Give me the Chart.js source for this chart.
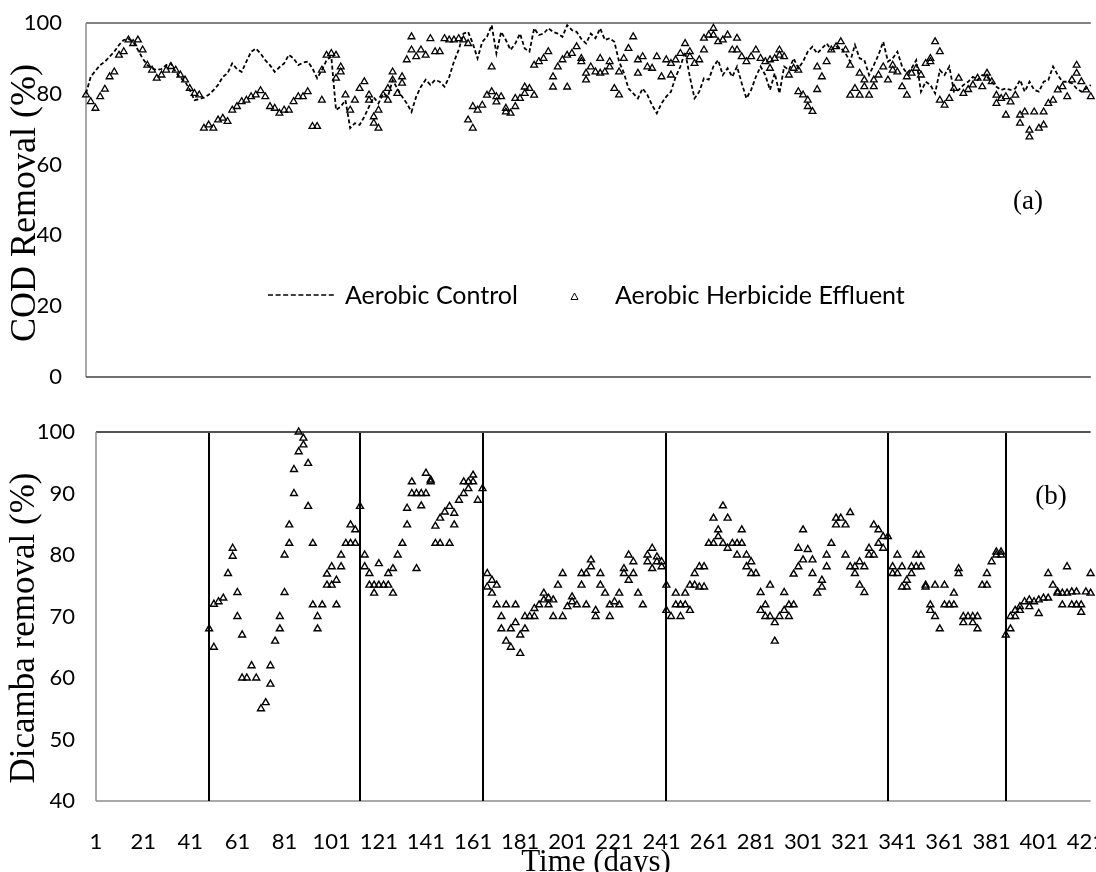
<!DOCTYPE html>
<html>
<head>
<meta charset="utf-8">
<title>COD and Dicamba removal</title>
<script src="https://cdn.jsdelivr.net/npm/chart.js@4.4.1/dist/chart.umd.min.js"></script>
<style>
html, body { margin: 0; padding: 0; background: #fff; overflow: hidden; }
#wrap { position: relative; width: 1096px; height: 872px; }
#wrap canvas { position: absolute; left: 0; }
.txt { position: absolute; white-space: nowrap; color: #000; line-height: 1; }
.serif { font-family: "Liberation Serif", "Times New Roman", serif; }
.sans { font-family: Lato, sans-serif; font-size: 25px; }
.ytitle { transform: translate(-50%, -50%) rotate(-90deg); font-size: 36px; }
</style>
</head>
<body>
<div id="wrap">
  <canvas id="codChart" width="1096" height="400" style="top:0"></canvas>
  <canvas id="dicambaChart" width="1096" height="472" style="top:400px"></canvas>

  <div class="txt serif ytitle" style="left:23px; top:203px">COD Removal (%)</div>
  <div class="txt serif ytitle" style="left:22px; top:628px; font-size:35px">Dicamba removal (%)</div>
  <div class="txt serif" style="left:596px; top:845px; font-size:31px; transform:translateX(-50%)">Time (days)</div>
  <div class="txt serif" style="left:1028px; top:200px; font-size:27px; transform:translate(-50%,-50%)">(a)</div>
  <div class="txt serif" style="left:1051px; top:495px; font-size:27px; transform:translate(-50%,-50%)">(b)</div>

  <!-- legend of the COD panel -->
  <svg style="position:absolute; left:268px; top:290px" width="68" height="10">
    <line x1="0" y1="5" x2="66" y2="5" stroke="#000" stroke-width="1.5" stroke-dasharray="5 2.6"/>
  </svg>
  <div class="txt sans" style="left:345px; top:282px">Aerobic Control</div>
  <svg style="position:absolute; left:570px; top:292px" width="9" height="9">
    <polygon points="4.5,1 8,7.5 1,7.5" fill="none" stroke="#000" stroke-width="1"/>
  </svg>
  <div class="txt sans" style="left:615px; top:282px">Aerobic Herbicide Effluent</div>
</div>

<script>
// sampling days (one category every 2 days)
var codDays = [];
for (var d = 1; d <= 427; d += 2) codDays.push(d);
var dicambaDays = [];
for (var d2 = 1; d2 <= 423; d2 += 2) dicambaDays.push(d2);

var codTicks = [0, 20, 40, 60, 80, 100];
var dicambaTicks = [40, 50, 60, 70, 80, 90, 100];

// start of each operating phase (days)
var phaseDays = [49, 113, 165, 243, 337, 387];

// (a) COD removal, aerobic control (%)
var controlCOD = [
  80.1, 84.8, 86.5, 88.1, 89.1, 90.5, 91.9, 93.8, 95.2, 95.5,
  94.7, 92.4, 90, 88.1, 87.2, 86.7, 87, 88.1, 88.6, 86.2,
  84.5, 83.5, 81.1, 78.2, 78.5, 78.9, 79.7, 81, 82.5, 84.8,
  85.8, 88.6, 87, 86.2, 89.1, 91.9, 92.8, 91.4, 89.5, 88.1,
  86.2, 87.5, 88.6, 91, 90, 88.1, 88.8, 89.1, 87.2, 84.4,
  86.7, 89.5, 90.5, 75.4, 76.4, 78.2, 70.3, 71.7, 71.2, 73.5,
  76.4, 79, 77.3, 80.1, 79.2, 83.9, 81.5, 79.2, 77.3, 74.9,
  79.2, 82, 84, 82.5, 83.9, 83.4, 82, 84.8, 89.1, 92.4,
  97, 97.5, 94.2, 90, 94.7, 96.1, 99.4, 91.4, 97.5, 95.2,
  92.4, 94.2, 97, 92.8, 91.9, 98.5, 96.6, 97, 98.5, 97.5,
  97, 96.1, 99.4, 98, 97.5, 95.5, 94.2, 97, 95.7, 98.5,
  95.2, 95.7, 94.7, 89.1, 86, 81.5, 80.1, 78.7, 81.5, 79.7,
  76.8, 74.5, 77.3, 79.2, 80.6, 84.8, 87.7, 91.9, 84.8, 78.7,
  80.6, 84.4, 84, 87.7, 89.5, 85.3, 87.2, 84.8, 87.7, 83,
  78.7, 81.1, 84.8, 87.7, 85.3, 81.1, 85.8, 80.1, 87.7, 86.7,
  90, 87.2, 89.1, 91.9, 93.3, 91.4, 92.8, 94.2, 92.4, 93.3,
  93, 91.4, 89.1, 93.8, 90, 89.5, 85.3, 88.1, 91, 94.7,
  89.1, 90, 91.9, 87.7, 85.8, 87.2, 89.5, 80.6, 83.4, 82.5,
  80.1, 86.7, 85.3, 87.7, 80.6, 81.1, 82.5, 83.4, 84.8, 83.9,
  85.3, 84.8, 83.4, 82, 81.1, 81.5, 81.1, 81.5, 83.9, 80.6,
  83.4, 81.1, 80.6, 83.4, 83.9, 87.7, 85.3, 83.4, 83.4, 83,
  81.5, 80.6, 81.5, 82.5
];

// (a) COD removal, aerobic herbicide effluent (%)
var effluentCOD = [
  79.7, 77.8, 75.9, 79.2, 81.3, 84.8, 86.2, 90.9, 91.9, 95.2,
  94.2, 95.2, 92.4, 88.1, 86.7, 84.4, 85.3, 86.7, 87.7, 86.7,
  85.3, 83.9, 81.5, 80.1, 79.7, 70.3, 71.2, 70.3, 72.6, 73.1,
  72.2, 75.4, 76.4, 77.8, 78.2, 79.2, 79.7, 80.9, 79.2, 76.4,
  75.9, 74.5, 75.4, 75.4, 77.8, 79.2, 79.2, 80.6, 70.8, 70.8,
  86.7, 90.9, 91.4, 84.4, 86.2, 79.7, 75.4, 78.2, 81.5, 83.4,
  79.7, 73.5, 70.3, 79.7, 78.2, 83.9, 80.1, 84.8, 89.6, 96.1,
  90.5, 92.4, 90.9, 95.6, 91.9, 91.9, 95.6, 95.2, 95.2, 95.6,
  95.2, 72.6, 76.4, 75.4, 76.8, 79.6, 80.6, 77.7, 79.2, 75.9,
  74.5, 76.4, 78.7, 81.9, 81.5, 79.6, 89.1, 90, 91.9, 81.9,
  87.6, 89.6, 90.9, 91.4, 93.3, 90, 85.8, 87.6, 86.2, 90,
  86.2, 89.1, 81.5, 79.7, 90, 92.8, 96.1, 89.6, 90.5, 87.6,
  87.2, 90.5, 84.8, 89.6, 85.3, 89.6, 91.4, 94.2, 91.9, 88.6,
  89.6, 95.7, 96.6, 98.5, 94.7, 95.2, 96.6, 92.4, 92.4, 90.5,
  89.1, 90.5, 92.4, 90, 89.1, 87.2, 90, 92.4, 90.5, 85.3,
  87.2, 80.6, 79.7, 78.2, 75, 87.6, 84.8, 89.1, 92.4, 93.3,
  94.7, 92.4, 79.6, 81.5, 85.8, 83.9, 79.6, 82, 85.3, 87.6,
  83.9, 88.1, 86.2, 82, 79.6, 85.8, 87.2, 85.3, 88.6, 89.1,
  94.7, 91.9, 76.8, 78.7, 81.5, 84.4, 80.1, 81.2, 82.5, 84.4,
  82, 85.8, 83.4, 79.6, 78.7, 79.2, 77.7, 79.6, 74, 74.9,
  67.8, 74.9, 70.3, 74.9, 77.3, 78.2, 81.1, 82, 79.2, 83.9,
  88.1, 83.4, 81.1, 79.2
];

// second reading on the same day (overlapping triangles)
var effluentExtraDays = [101, 107, 109, 121, 123, 125, 129, 131, 135, 139,
  163, 165, 173, 175, 179, 183, 187, 191, 199, 205,
  211, 213, 219, 223, 227, 235, 249, 257, 263, 267,
  277, 291, 295, 303, 307, 311, 325, 329, 331, 335,
  343, 349, 359, 363, 383, 387, 391, 397, 401, 407, 421];
var effluentExtraVals = [78.2, 90.9, 87.6, 78.2, 71.7, 75.4, 81.5, 86.2, 83, 92.4,
  94.2, 70.3, 87.6, 79.2, 74.9, 78.7, 80.1, 88.1, 84.8, 81.9,
  89.1, 83.9, 85.8, 87.6, 86.2, 85.8, 88.6, 90.5, 92.4, 96.6,
  95.7, 89.6, 90.9, 86.7, 76.4, 81.2, 88.1, 79.6, 82, 83.9,
  86.7, 84.8, 90, 78.2, 84.4, 77.3, 74, 71.7, 69.7, 71.2, 85.8];

// (b) Dicamba removal (%)
var dicambaRemoval = [
  null, null, null, null, null, null, null, null, null, null,
  null, null, null, null, null, null, null, null, null, null,
  null, null, null, null, 68, 72, 72.4, 73, 77, 79.8,
  70, 67, 60, 62, 60, 55, 56, 62, 66, 70,
  73.9, 81.9, 93.9, 100, 99, 87.9, 81.9, 68, 71.9, 75.1,
  78.1, 75.9, 78.1, 81.9, 84.9, 84.1, 87.9, 78.1, 77, 75.1,
  78.6, 75.1, 77, 73.8, 80, 81.9, 87.6, 90, 90, 88,
  93.3, 92.2, 81.9, 86, 87, 81.9, 86.8, 88.9, 90, 91.9,
  93, 88.9, 90.8, 77, 75.9, 71.9, 70, 71.9, 68, 71.9,
  64, 68, 70, 71.3, 71.9, 73.8, 73, 72.7, 75.1, 77,
  71.6, 72.4, 71.9, 77, 77, 79.2, 71, 75.1, 73.8, 71.9,
  72.4, 73.8, 77.8, 80, 77, 73.8, 71.9, 80, 77.8, 78.9,
  78.9, 75.1, 70, 71.9, 70, 71.9, 75.1, 77, 78.1, 74.8,
  81.9, 86, 84.1, 88, 86, 81.9, 81.9, 84.1, 80, 78.9,
  77, 71, 70, 70, 66, 70, 73.9, 71.9, 76.9, 81.1,
  84.1, 80.9, 79.2, 73.8, 75.9, 80, 81.9, 84.9, 86, 80,
  86.9, 77, 78.9, 73.9, 80, 84.9, 84.1, 83, 83, 78.1,
  77, 78.1, 75.9, 77, 80, 80, 74.8, 71, 70, 68,
  75.1, 71.9, 71.9, 77, 70, 70, 70, 70, 75.1, 77,
  78.9, 80.5, 80.5, 67, 68, 70, 71.6, 72.4, 72.7, 72.4,
  72.7, 73, 77, 75.1, 74, 71.9, 78.1, 71.9, 71.9, 70.7,
  74, 73.8
];

var dicambaExtraDays = [51, 59, 61, 63, 75, 79, 81, 83, 85, 87,
  89, 91, 93, 95, 99, 101, 103, 105, 109, 111,
  115, 117, 119, 121, 125, 127, 133, 135, 137, 139,
  141, 143, 145, 147, 151, 153, 157, 159, 161, 167,
  169, 171, 173, 175, 177, 179, 181, 183, 187, 191,
  193, 195, 199, 203, 207, 209, 211, 213, 215, 219,
  223, 225, 227, 229, 235, 237, 239, 241, 243, 247,
  249, 251, 253, 255, 257, 259, 263, 265, 267, 269,
  273, 275, 277, 279, 283, 285, 287, 289, 293, 295,
  297, 299, 301, 305, 309, 311, 315, 319, 321, 323,
  325, 327, 329, 331, 333, 335, 339, 341, 343, 345,
  347, 349, 351, 353, 355, 357, 361, 365, 367, 369,
  373, 375, 379, 383, 385, 389, 391, 393, 397, 401,
  405, 409, 411, 413, 415, 417, 419, 423];
var dicambaExtraVals = [65, 81.1, 73.9, 60, 59, 68, 80, 84.9, 90, 96.8,
  97.9, 94.9, 71.9, 70, 76.9, 75.1, 71.9, 80, 81.9, 81.9,
  80, 75.1, 73.8, 75.1, 75.1, 77.8, 84.9, 91.9, 77.8, 90,
  90, 91.9, 84.7, 81.9, 87.9, 84.9, 91.9, 90.8, 91.9, 74.8,
  73.8, 75.1, 68, 66, 65, 69, 67, 70, 70, 72.7,
  71.9, 70, 70, 73.2, 75.1, 71.9, 78.1, 70, 77, 70,
  71.9, 77, 75.9, 78.9, 78.9, 81.1, 79.7, 78.1, 71, 73.8,
  71.9, 73.8, 71, 75.1, 74.8, 78.1, 81.9, 83, 81.9, 81.1,
  80, 81.9, 78.1, 77, 73.9, 71.9, 75.1, 69, 71, 70,
  71.9, 78.1, 79.2, 77, 74.8, 78.1, 86, 84.9, 78.1, 78.1,
  75.1, 78.1, 81.1, 80, 81.9, 81.1, 77, 80, 74.8, 74.8,
  78.1, 78.1, 78.1, 75.1, 71.9, 75.1, 71.9, 73.8, 77.8, 69,
  69, 68, 75.1, 80, 80, 70, 71, 71, 71.6, 70.5,
  73, 73.8, 73.8, 73.8, 74, 74, 71.9, 77];

Chart.defaults.font.family = 'Lato';
Chart.defaults.color = '#000';

// border of the plot area, one colour per side
var frame = {
  id: 'frame',
  beforeDatasetsDraw: function (chart, args, opts) {
    var a = chart.chartArea, ctx = chart.ctx;
    ctx.save();
    ctx.lineWidth = 1.5;
    var sides = {
      top: [a.left, a.top, a.right, a.top],
      left: [a.left, a.top, a.left, a.bottom],
      bottom: [a.left, a.bottom, a.right, a.bottom]
    };
    Object.keys(sides).forEach(function (k) {
      if (!opts[k]) return;
      var s = sides[k];
      ctx.strokeStyle = opts[k];
      ctx.beginPath();
      ctx.moveTo(s[0], s[1]);
      ctx.lineTo(s[2], s[3]);
      ctx.stroke();
    });
    ctx.restore();
  }
};

// vertical lines at the phase changes
var phaseLines = {
  id: 'phaseLines',
  beforeDatasetsDraw: function (chart, args, opts) {
    if (!opts.days) return;
    var a = chart.chartArea, ctx = chart.ctx, x = chart.scales.x;
    ctx.save();
    ctx.strokeStyle = '#000';
    ctx.lineWidth = 2;
    opts.days.forEach(function (day) {
      var px = Math.round(x.getPixelForValue((day - 1) / 2));
      ctx.beginPath();
      ctx.moveTo(px, a.top + 1);
      ctx.lineTo(px, a.bottom);
      ctx.stroke();
    });
    ctx.restore();
  }
};

function triangles(data, r, bw) {
  return {
    data: data,
    showLine: false,
    pointStyle: 'triangle',
    pointRadius: r,
    pointHoverRadius: r,
    pointBorderColor: '#000',
    pointBackgroundColor: 'rgba(0,0,0,0)',
    pointBorderWidth: bw,
    clip: false
  };
}

function pairs(days, vals) {
  return days.map(function (d, k) { return { x: d, y: vals[k] }; });
}

new Chart(document.getElementById('codChart'), {
  type: 'line',
  data: {
    labels: codDays,
    datasets: [
      {
        label: 'Aerobic Control',
        data: controlCOD,
        borderColor: '#000',
        borderWidth: 1.8,
        borderDash: [4, 2.5],
        pointRadius: 0,
        tension: 0,
        fill: false
      },
      Object.assign({ label: 'Aerobic Herbicide Effluent' }, triangles(effluentCOD, 3.9, 1.3)),
      Object.assign({ label: 'Aerobic Herbicide Effluent ' }, triangles(pairs(effluentExtraDays, effluentExtraVals), 3.9, 1.3))
    ]
  },
  options: {
    responsive: false,
    animation: false,
    devicePixelRatio: 1,
    layout: { padding: { top: 23, right: 0, bottom: 0, left: 0 } },
    plugins: {
      legend: { display: false },
      tooltip: { enabled: false },
      frame: { top: '#595959', left: '#8c8c8c', bottom: '#404040' }
    },
    scales: {
      x: {
        type: 'category',
        offset: false,
        ticks: { display: false },
        grid: { display: false, drawTicks: false },
        border: { display: false },
        afterFit: function (s) { s.height = 23; }
      },
      y: {
        min: 0,
        max: 100,
        afterBuildTicks: function (s) { s.ticks = codTicks.map(function (v) { return { value: v }; }); },
        ticks: { padding: 0, color: '#000', font: { size: 22 } },
        grid: { display: false, drawTicks: true, tickLength: 24 },
        border: { display: false },
        afterFit: function (s) { s.width = 86; }
      }
    }
  },
  plugins: [frame]
});

new Chart(document.getElementById('dicambaChart'), {
  type: 'line',
  data: {
    labels: dicambaDays,
    datasets: [
      Object.assign({ label: 'Dicamba removal' }, triangles(dicambaRemoval, 4, 1.4)),
      Object.assign({ label: 'Dicamba removal ' }, triangles(pairs(dicambaExtraDays, dicambaExtraVals), 4, 1.4))
    ]
  },
  options: {
    responsive: false,
    animation: false,
    devicePixelRatio: 1,
    layout: { padding: { top: 32, right: 0, bottom: 0, left: 0 } },
    plugins: {
      legend: { display: false },
      tooltip: { enabled: false },
      frame: { top: '#1a1a1a', left: '#8c8c8c', bottom: '#8c8c8c' },
      phaseLines: { days: phaseDays }
    },
    scales: {
      x: {
        type: 'category',
        offset: false,
        ticks: {
          autoSkip: false,
          maxRotation: 0,
          padding: 0,
          color: '#000',
          font: { size: 22 },
          callback: function (v) {
            var day = this.getLabelForValue(v);
            return (day - 1) % 20 === 0 ? String(day) : '';
          }
        },
        grid: { display: false, drawTicks: true, tickLength: 28 },
        border: { display: false },
        afterFit: function (s) { s.height = 71; }
      },
      y: {
        min: 40,
        max: 100,
        afterBuildTicks: function (s) { s.ticks = dicambaTicks.map(function (v) { return { value: v }; }); },
        ticks: { padding: 0, color: '#000', font: { size: 22 } },
        grid: { display: false, drawTicks: true, tickLength: 21 },
        border: { display: false },
        afterFit: function (s) { s.width = 96; }
      }
    }
  },
  plugins: [frame, phaseLines]
});
</script>
</body>
</html>
